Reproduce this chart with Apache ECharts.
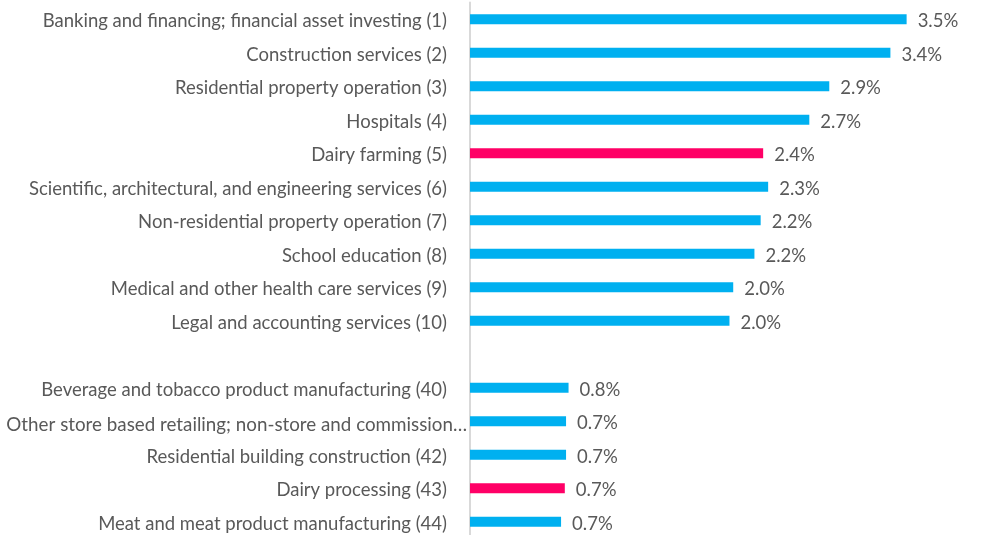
<!DOCTYPE html>
<html>
<head>
<meta charset="utf-8">
<script src="https://cdn.jsdelivr.net/npm/echarts@6/dist/echarts.min.js"></script>
<style>
    html, body {margin: 0; padding: 0; background: #fff;}
    #chart {width: 987px; height: 535px;}
</style>
</head>
<body>
<div id="chart"></div>
<script>
    // industries, top to bottom ('' = gap row)
    var categories = [
        'Banking and financing; financial asset investing (1)',
        'Construction services (2)',
        'Residential property operation (3)',
        'Hospitals (4)',
        'Dairy farming (5)',
        'Scientific, architectural, and engineering services (6)',
        'Non-residential property operation (7)',
        'School education (8)',
        'Medical and other health care services (9)',
        'Legal and accounting services (10)',
        '',
        'Beverage and tobacco product manufacturing (40)',
        'Other store based retailing; non-store and commission\u2026',
        'Residential building construction (42)',
        'Dairy processing (43)',
        'Meat and meat product manufacturing (44)'
    ];
    // bar lengths (%)
    var values = [3.50, 3.37, 2.88, 2.72, 2.35, 2.39, 2.33, 2.28, 2.11, 2.08, null, 0.79, 0.77, 0.77, 0.76, 0.73];
    // printed labels
    var valueLabels = ['3.5%', '3.4%', '2.9%', '2.7%', '2.4%', '2.3%', '2.2%', '2.2%', '2.0%', '2.0%', '', '0.8%', '0.7%', '0.7%', '0.7%', '0.7%'];
    // dairy rows are highlighted
    var highlight = [false, false, false, false, true, false, false, false, false, false, false, false, false, false, true, false];

    var blue = '#00B0F0', pink = '#FF0066', textColor = '#595959';

    var chart = echarts.init(document.getElementById('chart'));
    chart.setOption({
        animation: false,
        textStyle: {fontFamily: 'Lato'},
        grid: {left: 470, top: 2.5, height: 536, right: 18, containLabel: false, outerBoundsMode: 'none'},
        xAxis: {
            type: 'value',
            min: 0,
            max: 4,
            show: false
        },
        yAxis: {
            type: 'category',
            inverse: true,
            data: categories,
            axisLine: {lineStyle: {color: '#d9d9d9', width: 2}},
            axisTick: {show: false},
            axisLabel: {
                color: textColor,
                fontSize: 18.5,
                margin: 23,
                padding: [4, 0, 0, 0],
                // the cut-off label runs up to the axis, like the original
                formatter: function (v) {
                    return v.indexOf('\u2026') > -1 ? '{cut|' + v + '}' : v;
                },
                rich: {
                    cut: {
                        color: textColor,
                        fontSize: 18.8,
                        fontFamily: 'Lato',
                        padding: [4, -20, 0, 0]
                    }
                }
            }
        },
        series: [{
            type: 'bar',
            barWidth: 10,
            data: values.map(function (v, i) {
                return {
                    value: v,
                    itemStyle: {color: highlight[i] ? pink : blue}
                };
            }),
            label: {
                show: true,
                position: 'right',
                distance: 11,
                offset: [0, 2],
                color: textColor,
                fontSize: 18.5,
                formatter: function (p) {
                    return valueLabels[p.dataIndex];
                }
            }
        }]
    });
</script>
</body>
</html>
